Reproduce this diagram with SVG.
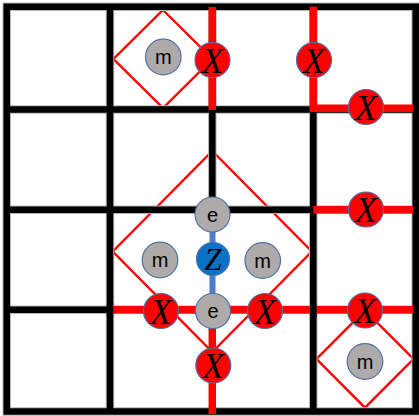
<svg xmlns="http://www.w3.org/2000/svg" width="419" height="416" viewBox="0 0 419 416">
<style>
.halo{fill:none;stroke:#b4b4b4;stroke-width:8.5}
.blk{fill:none;stroke:#000;stroke-width:6.5}
.red{fill:none;stroke:#ff0000;stroke-width:7.5}
.dia{fill:none;stroke:#ff0000;stroke-width:2.4}
.blue{fill:none;stroke:#4d7cc9;stroke-width:6}
.c{stroke:#5070a8;stroke-width:1.2}
.g{fill:#aeaaaa}
.x{fill:#ff0000}
.z{fill:#0a72c4}
.t{font-family:"Liberation Sans",Arial,sans-serif;font-size:20px;fill:#000;text-anchor:middle}
.s{font-family:"Liberation Serif","Times New Roman",serif;font-style:italic;font-size:35px;fill:#000;text-anchor:middle}
.sz{font-family:"Liberation Serif","Times New Roman",serif;font-style:italic;font-size:31px;fill:#000;text-anchor:middle}
</style>
<rect width="419" height="416" fill="#fff"/>
<g id="diamonds">
<polygon class="dia" points="163,10 212.5,59 163,108 113.5,59"/>
<polygon class="dia" points="212.3,151 311.8,251.5 212.3,352 112.8,251.5"/>
<polygon class="dia" points="365,310.3 413.5,359 365,407.7 316.5,359"/>
</g>
<g id="grid">
<path class="halo" d="M6.75,6.7H415.7V411.5H6.75Z M110,6.7V411.5 M212.3,6.7V209.8 M313.3,6.7V411.5 M6.75,109.5H415.7 M6.75,209.8H415.7 M6.75,309.8H415.7"/>
<path class="blk" d="M6.75,6.7H415.7V411.5H6.75Z M110,6.7V411.5 M212.3,6.7V209.8 M313.3,6.7V411.5 M6.75,109.5H415.7 M6.75,209.8H415.7 M6.75,309.8H415.7"/>
</g>
<g id="connectors">
<path class="red" d="M212.3,7V110 M313.3,6.5V108.3H413 M313.3,209.8H413 M110,309.8H413 M212.3,309.8V414"/>
<path class="blk" d="M110,303V317 M313.3,303V317"/>
<path class="blue" d="M212.5,214V310"/>
</g>
<g id="m1"><circle class="c g" cx="163.3" cy="57" r="17.8"/><text class="t" x="163.3" y="64.3">m</text></g>
<g id="X1"><circle class="c x" cx="212.5" cy="60" r="17.5"/><text class="s" x="212.5" y="72.5">X</text></g>
<g id="X2"><circle class="c x" cx="314" cy="60" r="17.5"/><text class="s" x="314" y="72.5">X</text></g>
<g id="X3"><circle class="c x" cx="366" cy="107" r="17.5"/><text class="s" x="366" y="119.5">X</text></g>
<g id="X7"><circle class="c x" cx="366" cy="209.5" r="17.5"/><text class="s" x="366" y="222">X</text></g>
<g id="e1"><circle class="c g" cx="212.5" cy="214.5" r="17.5"/><text class="t" x="212.5" y="221.5">e</text></g>
<g id="Z"><circle class="c z" cx="213" cy="259" r="16.5"/><text class="sz" x="213" y="269.5">Z</text></g>
<g id="m2"><circle class="c g" cx="160" cy="260" r="17.8"/><text class="t" x="160" y="267.3">m</text></g>
<g id="m3"><circle class="c g" cx="262.7" cy="260.5" r="17.8"/><text class="t" x="262.7" y="267.8">m</text></g>
<g id="e2"><circle class="c g" cx="213" cy="311" r="17.5"/><text class="t" x="213" y="318">e</text></g>
<g id="X4"><circle class="c x" cx="161" cy="311" r="17.5"/><text class="s" x="161" y="323.5">X</text></g>
<g id="X5"><circle class="c x" cx="265" cy="311" r="17.5"/><text class="s" x="265" y="323.5">X</text></g>
<g id="X6"><circle class="c x" cx="365" cy="310.5" r="17.5"/><text class="s" x="365" y="323">X</text></g>
<g id="X8"><circle class="c x" cx="213.3" cy="365.5" r="17.5"/><text class="s" x="213.3" y="378">X</text></g>
<g id="m4"><circle class="c g" cx="365" cy="361.5" r="17.8"/><text class="t" x="365" y="368.8">m</text></g>
</svg>
